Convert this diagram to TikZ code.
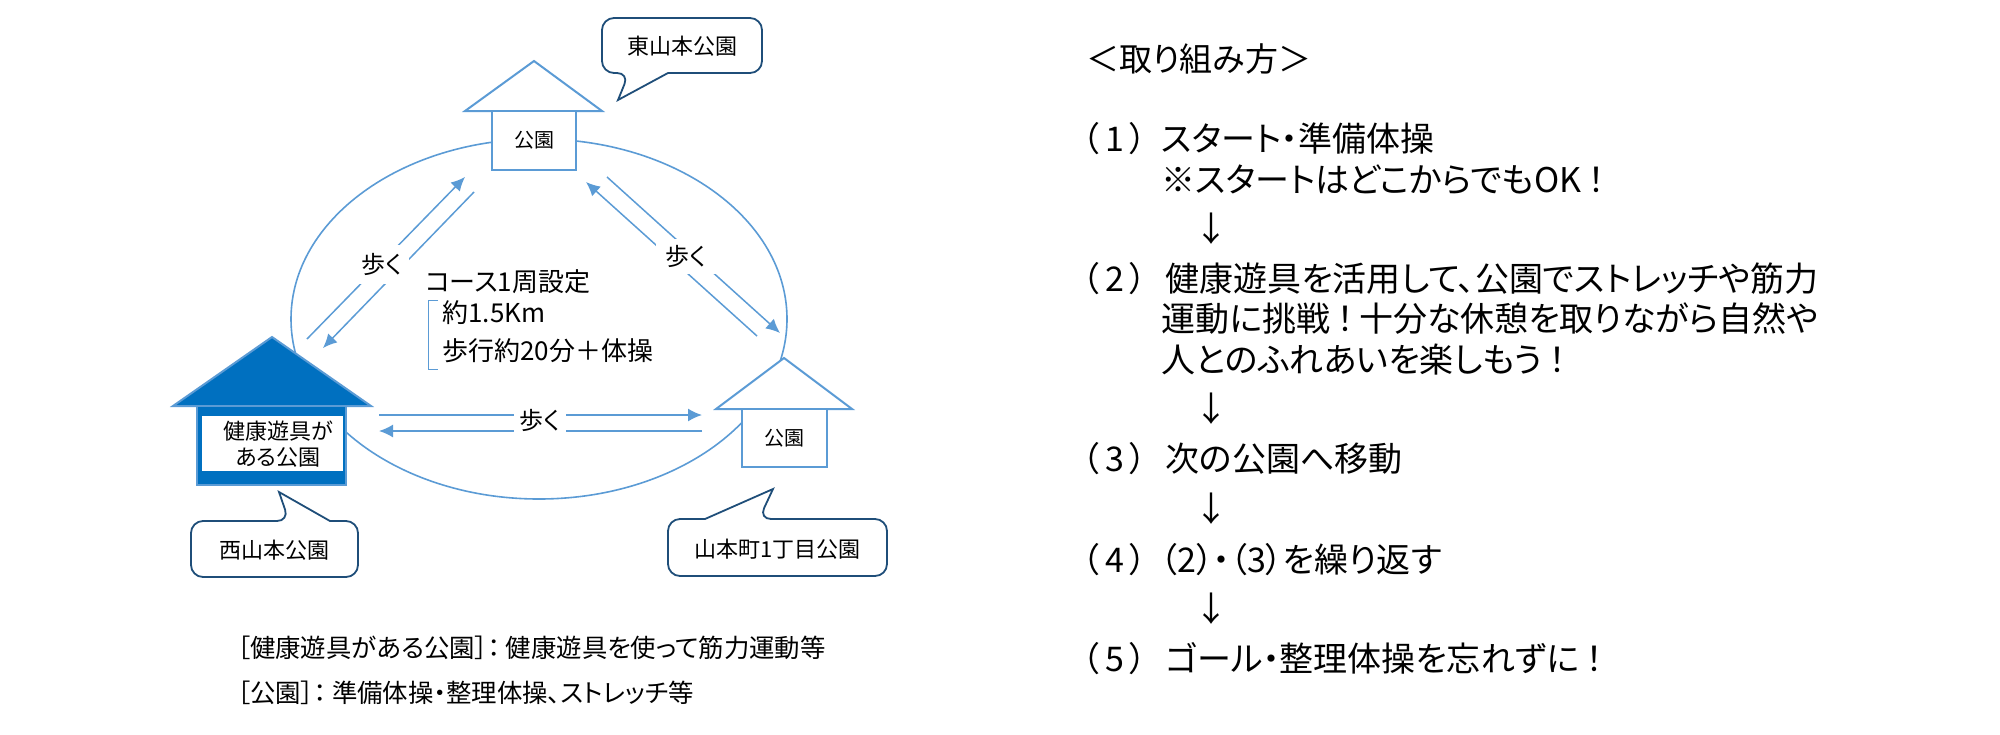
\documentclass[tikz,border=0pt]{standalone}
\usepackage{fontspec}
\setmainfont[RawFeature=+palt]{Noto Sans CJK JP}
\usepackage{tikz}
\usetikzlibrary{arrows.meta}
\definecolor{walkblue}{HTML}{5B9BD5}
\definecolor{healthblue}{HTML}{0070C0}
\definecolor{bubbleblue}{HTML}{1F4E79}
\newcommand{\widebang}{\hspace{.2em}！\hspace{.15em}}
\tikzset{
	parkbox/.style={draw=walkblue,fill=white,line width=1pt,inner sep=0pt,outer sep=0pt,font=\fontsize{10}{12}\selectfont},
	roofline/.style={draw=walkblue,fill=white,line width=1pt,line join=miter},
	courseline/.style={draw=walkblue,line width=.8pt},
	walkline/.style={color=walkblue,line width=.75pt},
	walkarrow/.style={walkline,-{Latex[length=7pt,width=6.5pt]}},
	walklabel/.style={fill=white,inner sep=0pt,font=\fontsize{12}{14}\selectfont},
	bubble/.style={draw=bubbleblue,fill=white,line width=.9pt},
	bubblelabel/.style={inner sep=0pt,font=\fontsize{11}{13}\selectfont},
	notelabel/.style={anchor=west,inner sep=0pt,text height=1.05em,text depth=.15em,font=\fontsize{13}{15}\selectfont},
	caplabel/.style={notelabel,font=\fontsize{12.7}{15}\selectfont},
	steplabel/.style={anchor=west,inner sep=0pt,text height=1.1em,text depth=.15em,font=\fontsize{17}{20}\selectfont},
}
\begin{document}
\begin{tikzpicture}[x=.5pt,y=-.5pt]
	\useasboundingbox (0,0) rectangle (2000,734);
	% course
	\draw[courseline] (539,319) ellipse [x radius=248,y radius=180];
	% parks
	\draw[roofline] (465,111) -- (534,61) -- (602,111) -- cycle;
	\node[parkbox,minimum width=42pt,minimum height=29.5pt] (parkE) at (534,140.5) {公園};
	\draw[roofline] (716,409) -- (784,358) -- (852,409) -- cycle;
	\node[parkbox,minimum width=42.5pt,minimum height=29pt] (parkS) at (784.5,438) {公園};
	\draw[roofline,fill=healthblue] (173,406) -- (272,337) -- (371,406) -- cycle;
	\node[parkbox,fill=healthblue,minimum width=74.5pt,minimum height=39.5pt] (parkW) at (271.5,445.5) {};
	\node[fill=white,inner sep=0pt,minimum width=70.5pt,minimum height=27.5pt] (parkWin) at (272.5,443.5) {};
	\node[bubblelabel,align=center] (parkWtxt) at (278,444) {健康遊具が\\ある公園};
	% walks
	\coordinate (wa) at (307,339);
	\coordinate (ea) at (465,177);
	\coordinate (eb) at (474,192);
	\coordinate (wb) at (323,348);
	\coordinate (ec) at (607,177);
	\coordinate (sa) at (780,333);
	\coordinate (sb) at (757,336);
	\coordinate (ed) at (586,182);
	\coordinate (wc) at (379,415);
	\coordinate (sc) at (702,415);
	\coordinate (sd) at (702,431);
	\coordinate (wd) at (379,431);
	\path[walkarrow]
	(wa) edge (ea)
	(eb) edge (wb)
	(ec) edge (sa)
	(sb) edge (ed)
	(wc) edge (sc)
	(sd) edge (wd)
	;
	\node[walklabel,minimum width=27pt,minimum height=19.5pt] (walkW) at (382,264.5) {歩く};
	\node[walklabel,minimum width=30pt,minimum height=17.5pt] (walkE) at (686,256.5) {歩く};
	\node[walklabel,minimum width=26pt,minimum height=19pt] (walkS) at (540,420) {歩く};
	% bubbles
	\draw[bubble] (618,100) -- (668,73) {[rounded corners=6pt] -- (762,73) -- (762,18) -- (602,18) -- (602,73) -- (629,73)} -- cycle;
	\draw[bubble] (279,492) -- (330,521) {[rounded corners=6pt] -- (358,521) -- (358,577) -- (191,577) -- (191,521) -- (289,521)} -- cycle;
	\draw[bubble] (773,489) -- (705,519) {[rounded corners=6pt] -- (668,519) -- (668,576) -- (887,576) -- (887,519) -- (759,519)} -- cycle;
	\node[bubblelabel] (nameE) at (682,46) {東山本公園};
	\node[bubblelabel] (nameW) at (274.5,550) {西山本公園};
	\node[bubblelabel] (nameS) at (777.5,549) {山本町1丁目公園};
	% course note
	\node[notelabel] (note1) at (425,282) {コース1周設定};
	\node[notelabel] (note2) at (442,313) {約1.5Km};
	\node[notelabel] (note3) at (442,351) {歩行約20分＋体操};
	\coordinate (brA) at (438,300);
	\coordinate (brB) at (428,300);
	\coordinate (brC) at (428,369);
	\coordinate (brD) at (438,369);
	\draw[walkline,line width=.5pt] (brA) -- (brB) -- (brC) -- (brD);
	% captions
	\node[caplabel] (capA) at (237,648) {［健康遊具がある公園］： 健康遊具を使って筋力運動等};
	\node[caplabel] (capB) at (237,693) {［公園］： 準備体操・整理体操、ストレッチ等};
	% steps
	\node[steplabel,font=\fontsize{16.5}{20}\selectfont] (title) at (1086,62) {＜取り組み方＞};
	\node[steplabel] (num1) at (1082,142) {（\,1\,）};
	\node[steplabel] (step1a) at (1161,142) {スタート・準備体操};
	\node[steplabel] (step1b) at (1161,183) {※スタートはどこからでもOK\widebang};
	\node[steplabel,anchor=center] (down1) at (1211,232) {↓};
	\node[steplabel] (num2) at (1082,282) {（\,2\,）};
	\node[steplabel] (step2a) at (1165,282) {健康遊具を活用して、公園でストレッチや筋力};
	\node[steplabel] (step2b) at (1161,322) {運動に挑戦\widebang 十分な休憩を取りながら自然や};
	\node[steplabel] (step2c) at (1161,363) {人とのふれあいを楽しもう\widebang};
	\node[steplabel,anchor=center] (down2) at (1211,412) {↓};
	\node[steplabel] (num3) at (1082,462) {（\,3\,）};
	\node[steplabel] (step3) at (1165,462) {次の公園へ移動};
	\node[steplabel,anchor=center] (down3) at (1211,512) {↓};
	\node[steplabel] (num4) at (1082,563) {（\,4\,）};
	\node[steplabel] (step4) at (1160,563) {（2）・（3）を繰り返す};
	\node[steplabel,anchor=center] (down4) at (1211,612) {↓};
	\node[steplabel] (num5) at (1082,662) {（\,5\,）};
	\node[steplabel] (step5) at (1165,662) {ゴール・整理体操を忘れずに\widebang};
\end{tikzpicture}
\end{document}
